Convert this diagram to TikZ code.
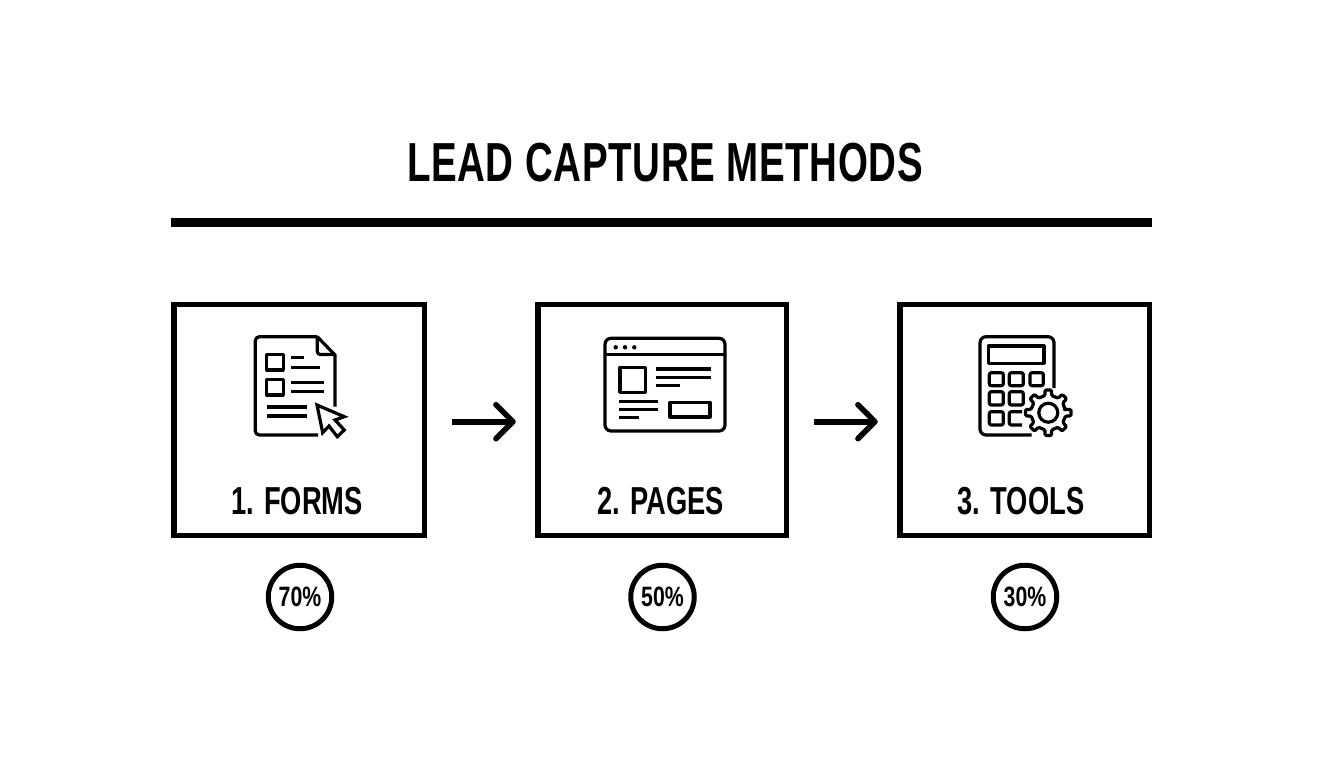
\documentclass[tikz,border=0pt]{standalone}
\usepackage{fontspec}
\usetikzlibrary{arrows.meta}
\newfontfamily\condtitle[FakeStretch=0.70,LetterSpace=1.2,BoldFont={Liberation Sans Bold}]{Liberation Sans}
\newfontfamily\condlabel[FakeStretch=0.70,BoldFont={Liberation Sans Bold}]{Liberation Sans}
\newfontfamily\condpct[FakeStretch=0.76,BoldFont={Liberation Sans Bold}]{Liberation Sans}
\tikzset{
  x=1pt,y=-1pt,
  cardbox/.style={draw=black,fill=white,line width=5.5pt,minimum height=231pt,inner sep=0pt,outer sep=0pt},
  cardlabel/.style={font=\condlabel\bfseries\fontsize{39}{39}\selectfont,text=black,inner sep=0pt,anchor=base},
  pct/.style={circle,draw=black,line width=5pt,minimum size=63.5pt,inner sep=0pt,outer sep=0pt,font=\condpct\bfseries\fontsize{28}{28}\selectfont,text=black},
  flow/.style={line width=5.6pt,-{Straight Barb[round,length=17pt,width=34pt,line width=5.6pt]}},
  ico/.style={line width=3.2pt,draw=black,line cap=butt,line join=round},
  icor/.style={ico,rounded corners=4pt},
}
\begin{document}
\begin{tikzpicture}
\useasboundingbox (0,0) rectangle (1344,768);
\fill[white] (0,0) rectangle (1344,768);
\node[font=\condtitle\bfseries\fontsize{55}{55}\selectfont,text=black,inner sep=0pt,anchor=base] (title) at (665,181) {LEAD CAPTURE METHODS};
\node[fill=black,minimum width=981pt,minimum height=8.5pt,inner sep=0pt,outer sep=0pt] (rule) at (661.5,222.3) {};
\node[cardbox,minimum width=250.5pt] (b1) at (299,420) {};
\node[cardbox,minimum width=248.5pt] (b2) at (662,420) {};
\node[cardbox,minimum width=249.5pt] (b3) at (1024.5,420) {};
\node[cardlabel] (l1) at (297,514) {1. FORMS};
\node[cardlabel] (l2) at (660.5,514) {2. PAGES};
\node[cardlabel] (l3) at (1021,514) {3. TOOLS};
\node[pct] (p1) at (300,597) {70\%};
\node[pct] (p2) at (662.5,597) {50\%};
\node[pct] (p3) at (1025,597) {30\%};
\draw[flow,shorten <=27.5pt,shorten >=22pt] ([yshift=-1.7pt]b1.east) -- ([yshift=-1.7pt]b2.west);
\draw[flow,shorten <=28pt,shorten >=22pt] ([yshift=-1.7pt]b2.east) -- ([yshift=-1.7pt]b3.west);
% icon 1: form
\draw[icor] (318,435) -- (255.3,435) -- (255.3,336.7) -- (317.3,336.7);
\draw[ico] (317.3,336.7) -- (335,355) -- (335,406.7);
\draw[ico,rounded corners=3pt] (317.3,336.7) -- (317.3,354.5) -- (335,354.5);
\draw[ico] (266.7,354.3) rectangle (283.3,370);
\draw[ico] (266.7,379.3) rectangle (283.3,395);
\draw[ico] (291,357.7) -- (304,357.7);
\draw[ico] (291,367.3) -- (319.5,367.3);
\draw[ico] (291,382.7) -- (323.7,382.7);
\draw[ico] (291,391.7) -- (323.7,391.7);
\draw[ico] (266.7,407) -- (307.3,407);
\draw[ico] (266.7,416) -- (307.3,416);
\draw[ico,line join=miter] (317,405) -- (322.7,432.7) -- (329,426) -- (337.3,436.7) -- (344.3,430) -- (335,420) -- (344.3,416.7) -- cycle;
% icon 2: page
\draw[ico,rounded corners=6pt] (605,338.3) rectangle (725,431);
\draw[ico] (605,354.3) -- (725,354.3);
\fill (615.7,347.3) circle (2.2pt) (625,347.3) circle (2.2pt) (634.3,347.3) circle (2.2pt);
\draw[ico] (620,367.3) rectangle (645.3,392.3);
\draw[ico] (655.7,369) -- (710.7,369);
\draw[ico] (655.7,377.3) -- (710.7,377.3);
\draw[ico] (655.7,385.7) -- (680,385.7);
\draw[ico] (619,401.7) -- (658.3,401.7);
\draw[ico] (619,409.7) -- (658.3,409.7);
\draw[ico] (619,417.7) -- (638.7,417.7);
\draw[ico] (670,402.3) rectangle (710,417);
% icon 3: calculator
\draw[ico,rounded corners=6pt] (1031.7,435) -- (980,435) -- (980,336.7) -- (1054,336.7) -- (1054,388);
\draw[ico] (988.3,346) rectangle (1044,363.3);
\draw[icor,rounded corners=2pt] (989.3,372.7) rectangle (1003.3,385.7);
\draw[icor,rounded corners=2pt] (1009.3,372.7) rectangle (1023.3,385.7);
\draw[icor,rounded corners=2pt] (1030,372.7) rectangle (1043.3,385.7);
\draw[icor,rounded corners=2pt] (989.3,391.7) rectangle (1003.3,405);
\draw[icor,rounded corners=2pt] (1009.3,391.7) rectangle (1023.3,405);
\draw[icor,rounded corners=2pt] (989.3,411.7) rectangle (1003.3,425);
\draw[icor,rounded corners=2pt] (1022,411.7) -- (1009.3,411.7) -- (1009.3,425) -- (1022,425);
\begin{scope}[shift={(1048.3,412.7)}]
\draw[ico,fill=white,rounded corners=1.2pt]
  (-11:17) \foreach \a in {0,45,...,315} { -- (\a-11:17.5) -- (\a-8:23) -- (\a+8:23) -- (\a+11:17.5) } -- cycle;
\draw[ico] (0,0) circle (9.5pt);
\end{scope}
\end{tikzpicture}
\end{document}
